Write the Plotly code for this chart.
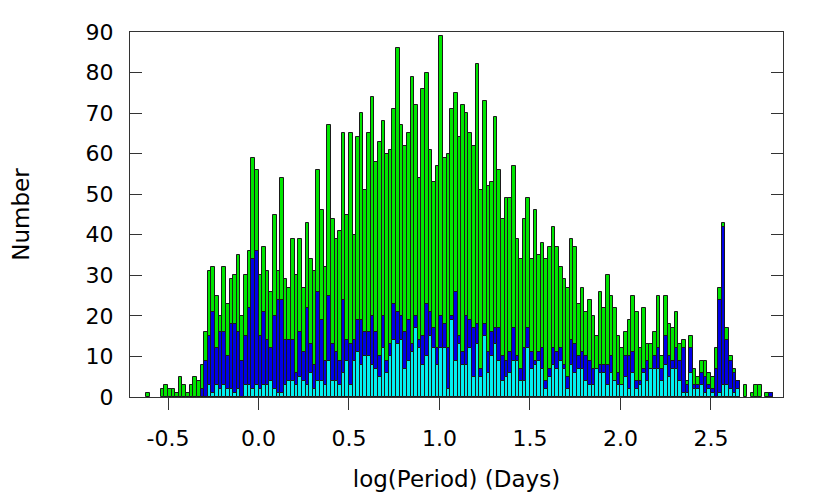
import plotly.graph_objects as go

# histogram bins: left edge of first bin and bin width (log days)
BIN_START = -0.62
BIN_WIDTH = 0.02

# counts per bin, all periods
all_counts = [
    1, 0, 0, 0, 2, 3, 2, 2, 1, 5, 3, 1, 3, 5, 4, 8, 16, 31, 32, 25,
    20, 32, 23, 29, 30, 35, 20, 30, 36, 59, 56, 30, 37, 31, 26, 45, 31, 54, 29, 27,
    39, 30, 39, 27, 43, 34, 31, 56, 46, 32, 67, 44, 39, 41, 65, 45, 65, 40, 64, 70,
    51, 65, 74, 58, 63, 68, 60, 61, 71, 86, 67, 62, 65, 79, 72, 54, 76, 80, 61, 53,
    57, 89, 59, 60, 71, 75, 64, 72, 70, 65, 62, 82, 51, 73, 52, 53, 69, 56, 44, 49,
    49, 57, 39, 34, 44, 49, 34, 46, 35, 38, 34, 37, 42, 37, 32, 29, 27, 39, 37, 23,
    27, 21, 24, 20, 15, 26, 22, 30, 25, 22, 15, 12, 16, 19, 25, 21, 12, 22, 13, 13,
    16, 25, 10, 25, 18, 17, 21, 13, 14, 4, 15, 7, 5, 9, 9, 6, 5, 12, 27, 43,
    17, 10, 7, 4, 0, 3, 0, 1, 3, 3, 0, 1, 1,
]

# counts per bin, second subset (blue)
blue_counts = [
    0, 0, 0, 0, 0, 0, 0, 0, 0, 0, 0, 0, 0, 0, 0, 2, 9, 15, 21, 12,
    16, 16, 10, 18, 18, 16, 9, 15, 22, 34, 36, 15, 21, 14, 12, 20, 24, 24, 14, 14,
    14, 6, 16, 11, 22, 13, 8, 26, 19, 9, 25, 13, 11, 9, 24, 14, 13, 14, 19, 19,
    16, 16, 20, 16, 10, 20, 9, 13, 23, 21, 20, 16, 19, 13, 20, 14, 15, 23, 21, 17,
    12, 20, 18, 12, 20, 26, 15, 11, 20, 19, 17, 18, 7, 18, 11, 16, 17, 17, 10, 9,
    11, 17, 10, 7, 12, 17, 11, 9, 11, 12, 4, 7, 12, 11, 12, 8, 5, 14, 13, 10,
    11, 10, 9, 7, 7, 8, 8, 8, 10, 4, 6, 3, 10, 10, 11, 4, 4, 7, 9, 7,
    10, 12, 7, 15, 10, 9, 12, 9, 12, 3, 12, 3, 3, 6, 5, 3, 2, 7, 24, 42,
    14, 9, 6, 4, 0, 0, 0, 0, 0, 0, 0, 0, 1,
]

# counts per bin, third subset (cyan)
cyan_counts = [
    0, 0, 0, 0, 0, 0, 0, 0, 0, 0, 0, 0, 0, 0, 0, 0, 0, 3, 1, 3,
    2, 3, 2, 2, 1, 2, 0, 3, 3, 2, 3, 2, 3, 3, 4, 2, 1, 1, 3, 4,
    4, 3, 5, 4, 3, 6, 2, 4, 4, 3, 9, 4, 4, 3, 6, 9, 3, 9, 11, 8,
    10, 10, 8, 7, 5, 12, 6, 10, 14, 13, 14, 7, 9, 11, 17, 12, 8, 10, 15, 12,
    8, 12, 12, 2, 19, 9, 13, 8, 8, 12, 5, 13, 5, 15, 6, 10, 13, 9, 4, 5,
    6, 9, 9, 4, 4, 12, 7, 8, 9, 7, 2, 5, 8, 7, 9, 7, 2, 8, 6, 7,
    7, 4, 3, 3, 7, 6, 6, 3, 6, 4, 3, 3, 5, 2, 6, 2, 3, 6, 4, 7,
    7, 7, 4, 8, 5, 7, 7, 4, 1, 1, 6, 2, 2, 3, 1, 2, 1, 0, 1, 3,
    3, 2, 1, 2, 0, 0, 0, 0, 0, 0, 0, 0, 0,
]

GREEN = "#00e600"
BLUE = "#0000e6"
CYAN = "#00f0f0"
EDGE = "#1a1a1a"

centers = [BIN_START + BIN_WIDTH * (i + 0.5) for i in range(len(all_counts))]


def bar(counts, color):
    return go.Bar(
        x=centers, y=[c if c > 0 else None for c in counts], width=BIN_WIDTH,
        marker=dict(color=color, line=dict(color=EDGE, width=1)),
        showlegend=False, hoverinfo="x+y",
    )


fig = go.Figure([bar(all_counts, GREEN), bar(blue_counts, BLUE), bar(cyan_counts, CYAN)])

tick_font = dict(family="DejaVu Sans, Arial", size=22, color="black")
title_font = dict(family="DejaVu Sans, Arial", size=23, color="black")
# page body has an 8px margin, so the figure is 8px smaller than the window
fig.update_layout(
    width=822, height=490, barmode="overlay", bargap=0,
    font=title_font, paper_bgcolor="white", plot_bgcolor="white",
    margin=dict(l=122, r=47, t=24, b=101),
)
fig.update_xaxes(
    range=[-0.71, 2.898], tickvals=[-0.5, 0, 0.5, 1.0, 1.5, 2.0, 2.5],
    ticktext=["-0.5", "0.0", "0.5", "1.0", "1.5", "2.0", "2.5"],
    tickfont=tick_font, ticklabelstandoff=10, automargin=False,
    ticks="outside", ticklen=12, tickcolor="#333", showline=True, linecolor="#333",
    linewidth=1, mirror=True, showgrid=False, zeroline=False,
    title=dict(text="log(Period) (Days)", standoff=20, font=title_font),
)
fig.update_yaxes(
    range=[0, 90], dtick=10, tickfont=tick_font, ticklabelstandoff=11, automargin=False,
    ticks="inside", ticklen=12, tickcolor="#333",
    showline=True, linecolor="#333", linewidth=1, mirror="ticks",
    showgrid=False, zeroline=False,
    title=dict(text="Number", standoff=50, font=title_font),
)

fig.write_html("out.html")
